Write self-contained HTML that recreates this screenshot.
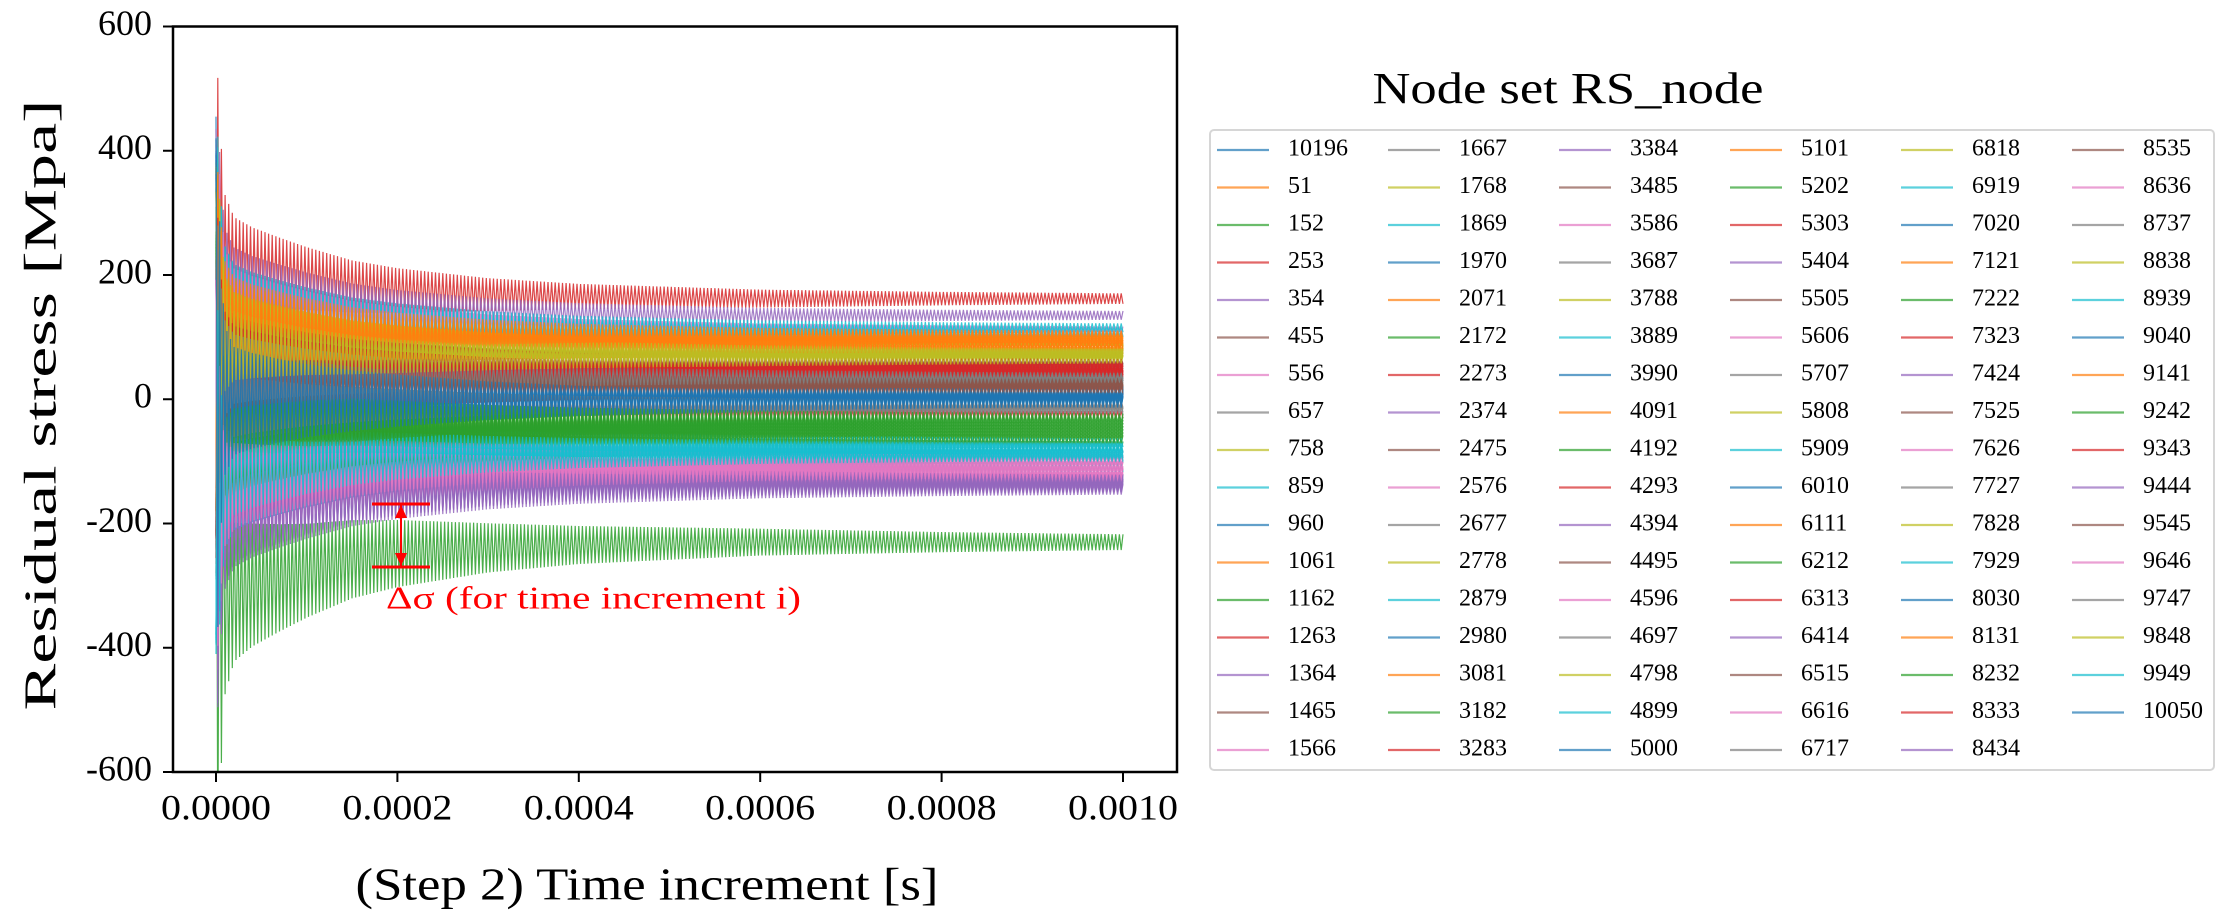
<!DOCTYPE html>
<html><head><meta charset="utf-8"><style>
html,body{margin:0;padding:0;background:#fff;}
svg{display:block;}
text{font-family:"Liberation Serif",serif;}
</style></head><body>
<svg id="chart" width="2223" height="924" viewBox="0 0 2223 924" xmlns="http://www.w3.org/2000/svg">
<defs><clipPath id="plotclip"><rect x="173" y="26.5" width="1004" height="745.5"/></clipPath></defs>
<g id="series-layer" clip-path="url(#plotclip)"></g>
<rect x="173" y="26.5" width="1004" height="745.5" fill="none" stroke="#000" stroke-width="2.5"/>
<g id="yticks"></g>
<g id="xticks"></g>
<text x="45" y="405" transform="rotate(-90 45 405)" text-anchor="middle" dominant-baseline="middle" font-size="46" textLength="611" lengthAdjust="spacingAndGlyphs">Residual stress [Mpa]</text>
<text x="647" y="889" text-anchor="middle" dominant-baseline="middle" font-size="46" textLength="583" lengthAdjust="spacingAndGlyphs">(Step 2) Time increment [s]</text>
<g>
<line x1="372" y1="504" x2="430" y2="504" stroke="#f00" stroke-width="3"/>
<line x1="372" y1="567" x2="430" y2="567" stroke="#f00" stroke-width="3"/>
<line x1="401" y1="504" x2="401" y2="567" stroke="#f00" stroke-width="2"/>
<polygon points="401,505 395,518 407,518" fill="#f00"/>
<polygon points="401,566 395,553 407,553" fill="#f00"/>
<text x="386" y="601" dominant-baseline="middle" font-size="32" fill="#f00" textLength="415" lengthAdjust="spacingAndGlyphs">Δσ (for time increment i)</text>
</g>
<text x="1568" y="93" text-anchor="middle" dominant-baseline="middle" font-size="44" textLength="391" lengthAdjust="spacingAndGlyphs">Node set RS_node</text>
<rect x="1210" y="130" width="1004" height="640" rx="4" fill="#fff" stroke="#d6d6d6" stroke-width="2"/>
<g id="legend"></g>
</svg>
<script>
const NS="http://www.w3.org/2000/svg";
const nodeLabels=["10196"];
for(let n=51;n<=10050;n+=101) nodeLabels.push(String(n));
const finalValues=[
 5,90,-230,162,135,60,-120,30,75,108,
 10,85,-60,45,-135,20,110,-15,70,115,
 0,95,-45,-25,-140,55,-100,35,80,-110,
 8,100,-75,50,-128,25,-90,40,65,-85,
 -5,78,-55,15,-145,62,-105,-20,72,-95,
 12,92,-35,48,-132,28,-115,38,82,-70,
 3,88,-65,52,-138,18,-125,-10,68,-80,
 -3,97,-40,58,-142,22,-98,33,76,-88,
 6,84,-50,42,-130,14,-118,-8,74,-78,
 2,104,-30,46,-136,26,-108,36,64,-92,
 -2];
const ampScale=[
 1.5,0.9,1.8,1.2,1.0,0.8,1.1,0.9,1.0,1.1,
 1.3,0.8,1.0,0.9,1.1,0.8,1.0,0.9,0.9,1.0,
 1.4,0.9,1.0,0.8,1.2,0.9,1.1,0.8,1.0,1.0,
 1.2,0.9,1.0,0.9,1.1,0.8,1.0,0.9,0.9,1.0,
 1.3,0.8,1.0,0.9,1.2,0.8,1.1,0.9,0.9,1.0,
 1.2,0.9,1.0,0.8,1.1,0.9,1.0,0.8,1.0,1.0,
 1.3,0.9,1.0,0.9,1.2,0.8,1.1,0.9,0.9,1.0,
 1.2,0.8,1.0,0.9,1.1,0.8,1.0,0.9,0.9,1.0,
 1.3,0.9,1.0,0.8,1.2,0.9,1.1,0.8,1.0,1.0,
 1.2,0.9,1.0,0.9,1.1,0.8,1.0,0.9,0.9,1.0,
 1.4];
const envTimes=[0,0.000003,0.000006,0.00001,0.00002,0.00004,0.00007,0.0001,0.00015,0.0002,0.0003,0.0004,0.0006,0.0008,0.001];
const envAmps=[300,240,140,85,62,55,48,42,35,30,22,17,12,9,7];
const driftFactor=[0,0.4,0.45,0.4,0.35,0.3,0.25,0.2,0.12,0.08,0.04,0.02,0,0,0];
const yTicks=[600,400,200,0,-200,-400,-600];
const xTicks=[0,0.0002,0.0004,0.0006,0.0008,0.001];
const xTickLabels=["0.0000","0.0002","0.0004","0.0006","0.0008","0.0010"];
const tab10=["#1f77b4","#ff7f0e","#2ca02c","#d62728","#9467bd","#8c564b","#e377c2","#7f7f7f","#bcbd22","#17becf"];

const X0=216,X1=1123,Y0=26.5,Y1=772;
function xs(t){return X0+(t-0)/(0.001)*(X1-X0);}
function ys(v){return Y1-(v+600)/1200*(Y1-Y0);}
function interp(arrT,arrV,t){for(let i=1;i<arrT.length;i++){if(t<=arrT[i]){const f=(t-arrT[i-1])/(arrT[i]-arrT[i-1]);return arrV[i-1]+f*(arrV[i]-arrV[i-1]);}}return arrV[arrV.length-1];}

const layer=document.getElementById("series-layer");
const N=500;
for(let s=0;s<finalValues.length;s++){
  let pts=[];
  for(let k=0;k<=N;k++){
    const t=k/N*0.001;
    const env=interp(envTimes,envAmps,t)*ampScale[s];
    const mean=finalValues[s]*(1+interp(envTimes,driftFactor,t));
    const sign=((k+s)%2===0)?1:-1;
    pts.push(xs(t).toFixed(1)+","+ys(mean+sign*env).toFixed(1));
  }
  const pl=document.createElementNS(NS,"polyline");
  pl.setAttribute("points",pts.join(" "));
  pl.setAttribute("fill","none");
  pl.setAttribute("stroke",tab10[s%10]);
  pl.setAttribute("stroke-width","1.2");
  pl.setAttribute("stroke-opacity","0.85");
  
  
  layer.appendChild(pl);
}

const yg=document.getElementById("yticks");
yTicks.forEach(v=>{
  const y=ys(v);
  const l=document.createElementNS(NS,"line");
  l.setAttribute("x1",163);l.setAttribute("x2",173);l.setAttribute("y1",y);l.setAttribute("y2",y);
  l.setAttribute("stroke","#000");l.setAttribute("stroke-width","2");
  
  
  yg.appendChild(l);
  const tx=document.createElementNS(NS,"text");
  tx.setAttribute("x",152);tx.setAttribute("y",y);
  tx.setAttribute("text-anchor","end");tx.setAttribute("dominant-baseline","middle");
  tx.setAttribute("font-size","36");
  tx.textContent=String(v);
  
  
  yg.appendChild(tx);
});
const xg=document.getElementById("xticks");
xTicks.forEach((v,i)=>{
  const x=xs(v);
  const l=document.createElementNS(NS,"line");
  l.setAttribute("x1",x);l.setAttribute("x2",x);l.setAttribute("y1",772);l.setAttribute("y2",782);
  l.setAttribute("stroke","#000");l.setAttribute("stroke-width","2");
  
  
  xg.appendChild(l);
  const tx=document.createElementNS(NS,"text");
  tx.setAttribute("x",x);tx.setAttribute("y",811);
  tx.setAttribute("text-anchor","middle");tx.setAttribute("dominant-baseline","middle");
  tx.setAttribute("font-size","36");
  tx.setAttribute("textLength","110");tx.setAttribute("lengthAdjust","spacingAndGlyphs");
  tx.textContent=xTickLabels[i];
  
  
  xg.appendChild(tx);
});

const lg=document.getElementById("legend");
nodeLabels.forEach((lab,i)=>{
  const col=Math.floor(i/17),row=i%17;
  const x=1217+col*171,y=150+row*37.5;
  const g=document.createElementNS(NS,"g");
  
  
  const l=document.createElementNS(NS,"line");
  l.setAttribute("x1",x);l.setAttribute("x2",x+52);l.setAttribute("y1",y);l.setAttribute("y2",y);
  l.setAttribute("stroke",tab10[i%10]);l.setAttribute("stroke-width","2.2");l.setAttribute("stroke-opacity","0.7");
  g.appendChild(l);
  const tx=document.createElementNS(NS,"text");
  tx.setAttribute("x",x+71);tx.setAttribute("y",y);
  tx.setAttribute("dominant-baseline","middle");tx.setAttribute("font-size","24");
  tx.textContent=lab;
  g.appendChild(tx);
  lg.appendChild(g);
});
</script>
</body></html>
